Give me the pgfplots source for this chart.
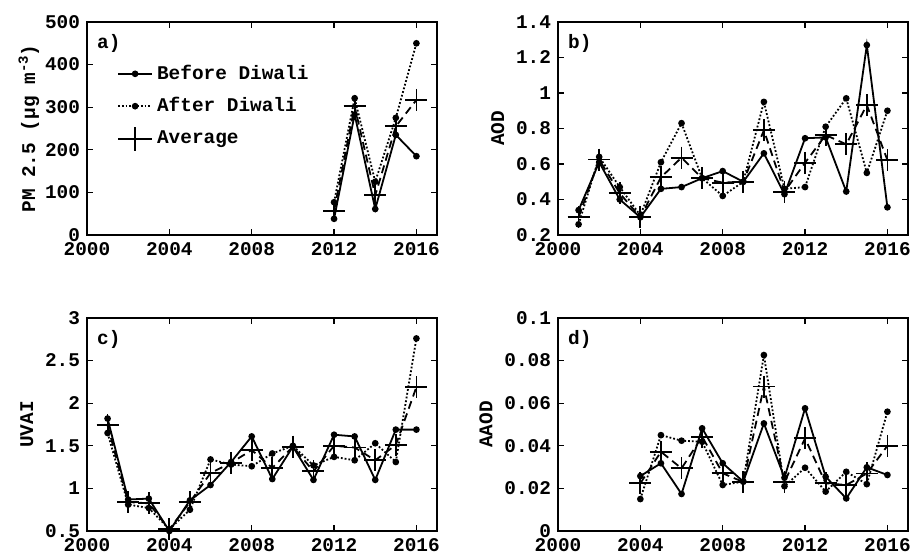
\documentclass[border=0pt]{standalone}
\usepackage{fontspec}
\setmainfont{Liberation Mono}
\usepackage{pgfplots}
\pgfplotsset{compat=1.18}

\pgfplotsset{
  panel/.style={
    width=175pt, height=106.5pt, scale only axis,
    xmin=2000, xmax=2017, xtick={2000,2004,2008,2012,2016},
    tick align=inside, major tick length=3pt,
    axis line style={line width=0.8pt},
    every tick/.style={black, line width=0.6pt},
    /pgf/number format/assume math mode=true,
    /pgf/number format/1000 sep={},
    scaled ticks=false,
    ylabel style={yshift=-1pt},
    clip=false,
  },
  before/.style={black, solid, line width=0.9pt, mark=*, mark size=1.2pt},
  after/.style={black, densely dotted, line width=0.9pt, mark=*, mark size=1.2pt, mark options={solid}},
  avg/.style={black, dash pattern=on 4pt off 2.5pt, line width=0.9pt, mark=+, mark size=5.5pt, mark options={solid, line width=0.9pt}},
}
\tikzset{plabel/.style={anchor=west, inner sep=0pt}}

\begin{document}
\begin{tikzpicture}[font=\fontsize{9.7}{11}\selectfont\bfseries]
\useasboundingbox (0,0) rectangle (458pt,-278pt);

% a) PM 2.5
\begin{axis}[panel, at={(43.5pt,-117.5pt)}, anchor=south west,
  ymin=0, ymax=500, ytick={0,100,...,500},
  ylabel={PM 2.5 (µg m\raisebox{0.7ex}{\fontsize{7}{8}\selectfont -3})},
  ylabel style={yshift=-3pt},
  legend cell align=left,
  legend style={draw=none, fill=none, at={(axis description cs:0.085,0.818)}, anchor=north west,
    row sep=3.5pt, inner sep=0pt, font=\fontsize{9.7}{11}\selectfont\bfseries},
]
\addplot[before] coordinates {(2012,38) (2013,283) (2014,61) (2015,235) (2016,185)};
\addlegendentry{Before Diwali}
\addplot[after] coordinates {(2012,77) (2013,321) (2014,125) (2015,275) (2016,450)};
\addlegendentry{After Diwali}
\addplot[avg, legend image code/.code={
    \draw[solid, line width=0.9pt] (0cm,0cm) -- (0.6cm,0cm);
    \draw[solid, line width=0.9pt] (0.3cm,-6pt) -- (0.3cm,6pt);}]
  coordinates {(2012,57) (2013,302) (2014,93) (2015,255) (2016,317)};
\addlegendentry{Average}
\node[plabel] at (rel axis cs:0.028,0.9) {a)};
\end{axis}

% b) AOD
\begin{axis}[panel, at={(279pt,-117.5pt)}, anchor=south west,
  ymin=0.2, ymax=1.4, ytick={0.2,0.4,0.6,0.8,1,1.2,1.4},
  ylabel={AOD},
]
\addplot[before] coordinates {(2001,0.34) (2002,0.61) (2003,0.40) (2004,0.30) (2005,0.46) (2006,0.47) (2007,0.52) (2008,0.56) (2009,0.50) (2010,0.66) (2011,0.43) (2012,0.745) (2013,0.75) (2014,0.445) (2015,1.27) (2016,0.356)};
\addplot[after] coordinates {(2001,0.26) (2002,0.64) (2003,0.47) (2004,0.31) (2005,0.61) (2006,0.83) (2007,0.52) (2008,0.42) (2009,0.50) (2010,0.95) (2011,0.46) (2012,0.47) (2013,0.81) (2014,0.97) (2015,0.55) (2016,0.90)};
\addplot[avg] coordinates {(2001,0.30) (2002,0.625) (2003,0.435) (2004,0.30) (2005,0.525) (2006,0.636) (2007,0.52) (2008,0.495) (2009,0.50) (2010,0.79) (2011,0.444) (2012,0.607) (2013,0.763) (2014,0.711) (2015,0.932) (2016,0.622)};
\node[plabel] at (rel axis cs:0.028,0.9) {b)};
\end{axis}

% c) UVAI
\begin{axis}[panel, at={(43.5pt,-265.5pt)}, anchor=south west,
  ymin=0.5, ymax=3, ytick={0.5,1,1.5,2,2.5,3},
  ylabel={UVAI},
]
\addplot[before] coordinates {(2001,1.82) (2002,0.87) (2003,0.88) (2004,0.50) (2005,0.86) (2006,1.04) (2007,1.31) (2008,1.61) (2009,1.11) (2010,1.49) (2011,1.10) (2012,1.63) (2013,1.61) (2014,1.10) (2015,1.69) (2016,1.69)};
\addplot[after] coordinates {(2001,1.65) (2002,0.81) (2003,0.77) (2004,0.52) (2005,0.75) (2006,1.34) (2007,1.28) (2008,1.26) (2009,1.41) (2010,1.50) (2011,1.27) (2012,1.37) (2013,1.33) (2014,1.53) (2015,1.31) (2016,2.76)};
\addplot[avg] coordinates {(2001,1.74) (2002,0.84) (2003,0.825) (2004,0.52) (2005,0.84) (2006,1.18) (2007,1.30) (2008,1.45) (2009,1.24) (2010,1.49) (2011,1.20) (2012,1.50) (2013,1.48) (2014,1.33) (2015,1.51) (2016,2.19)};
\node[plabel] at (rel axis cs:0.028,0.9) {c)};
\end{axis}

% d) AAOD
\begin{axis}[panel, at={(279pt,-265.5pt)}, anchor=south west,
  ymin=0, ymax=0.1, ytick={0,0.02,0.04,0.06,0.08,0.1},
  yticklabel style={/pgf/number format/fixed, /pgf/number format/precision=2},
  ylabel={AAOD},
]
\addplot[before] coordinates {(2004,0.0258) (2005,0.0318) (2006,0.0174) (2007,0.0482) (2008,0.0318) (2009,0.0232) (2010,0.0505) (2011,0.025) (2012,0.0576) (2013,0.0255) (2014,0.0153) (2015,0.0299) (2016,0.0263)};
\addplot[after] coordinates {(2004,0.015) (2005,0.045) (2006,0.0424) (2007,0.0419) (2008,0.0216) (2009,0.0232) (2010,0.0826) (2011,0.021) (2012,0.0297) (2013,0.0185) (2014,0.0278) (2015,0.022) (2016,0.056)};
\addplot[avg] coordinates {(2004,0.0224) (2005,0.0372) (2006,0.0294) (2007,0.0443) (2008,0.0271) (2009,0.023) (2010,0.0678) (2011,0.023) (2012,0.0435) (2013,0.0224) (2014,0.0216) (2015,0.027) (2016,0.040)};
\node[plabel] at (rel axis cs:0.028,0.9) {d)};
\end{axis}
\end{tikzpicture}
\end{document}
